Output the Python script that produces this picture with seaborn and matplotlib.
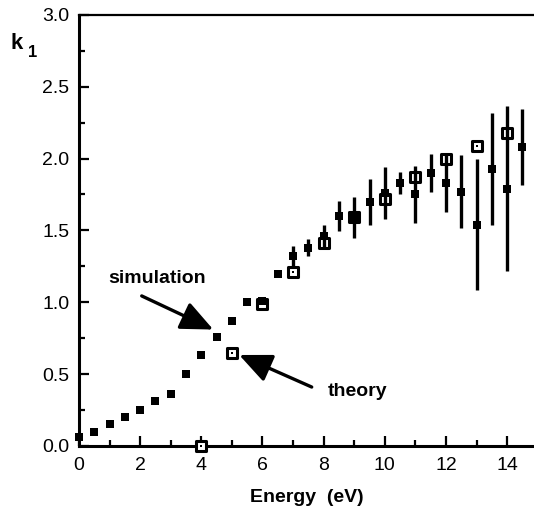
import numpy as np
import pandas as pd
import matplotlib
matplotlib.use("Agg")
import matplotlib.pyplot as plt
from matplotlib.ticker import MultipleLocator, FormatStrFormatter
import seaborn as sns

# simulation (filled squares, with error bars above 7 eV)
sim_energy = [0.0, 0.5, 1.0, 1.5, 2.0, 2.5, 3.0, 3.5, 4.0, 4.5,
              5.0, 5.5, 6.0, 6.5, 7.0, 7.5, 8.0, 8.5, 9.0, 9.5,
              10.0, 10.5, 11.0, 11.5, 12.0, 12.5, 13.0, 13.5, 14.0, 14.5]
sim_k1 = [0.06, 0.10, 0.15, 0.20, 0.25, 0.31, 0.36, 0.50, 0.63, 0.76,
          0.87, 1.00, 1.01, 1.20, 1.32, 1.38, 1.46, 1.60, 1.59, 1.70,
          1.76, 1.83, 1.75, 1.90, 1.83, 1.77, 1.54, 1.93, 1.79, 2.08]
sim_err = [0, 0, 0, 0, 0, 0, 0, 0, 0, 0,
           0, 0, 0, 0, 0.07, 0.06, 0.08, 0.105, 0.145, 0.16,
           0.18, 0.075, 0.20, 0.13, 0.20, 0.255, 0.455, 0.39, 0.575, 0.265]

# theory (open squares)
theory_energy = [4, 5, 6, 7, 8, 9, 10, 11, 12, 13, 14]
theory_k1 = [0.00, 0.645, 0.99, 1.21, 1.41, 1.59, 1.72, 1.87, 2.00, 2.09, 2.18]

sim = pd.DataFrame({"E": sim_energy, "k1": sim_k1, "err": sim_err})
theo = pd.DataFrame({"E": theory_energy, "k1": theory_k1})

sns.set_style("ticks")
plt.rcParams["font.family"] = ["Liberation Sans", "DejaVu Sans"]
plt.rcParams["text.color"] = "black"
plt.rcParams["axes.labelcolor"] = "black"

fig = plt.figure(figsize=(5.34, 5.12), dpi=100)
ax = fig.add_axes([0.148, 0.129, 0.852, 0.842])

# theory markers: open square with a small dot inside
sns.scatterplot(data=theo, x="E", y="k1", ax=ax, marker="s", s=55,
                facecolor="white", edgecolor="black", linewidth=2.2,
                zorder=3, clip_on=False, legend=False)
sns.scatterplot(data=theo, x="E", y="k1", ax=ax, marker="s", s=3,
                color="black", linewidth=0, zorder=3, clip_on=False, legend=False)

# simulation error bars + markers
bars = sim[sim["err"] > 0]
ax.errorbar(bars["E"], bars["k1"], yerr=bars["err"], fmt="none",
            ecolor="black", elinewidth=2.4, capsize=0, zorder=4)
sns.scatterplot(data=sim, x="E", y="k1", ax=ax, marker="s", s=30,
                color="black", linewidth=0, zorder=5, clip_on=False, legend=False)

ax.set_xlim(0, 14.88)
ax.set_ylim(0, 3.0)
ax.xaxis.set_major_locator(MultipleLocator(2))
ax.xaxis.set_minor_locator(MultipleLocator(1))
ax.yaxis.set_major_locator(MultipleLocator(0.5))
ax.yaxis.set_minor_locator(MultipleLocator(0.25))
ax.yaxis.set_major_formatter(FormatStrFormatter("%.1f"))

ax.tick_params(which="both", direction="in", width=1.6, colors="black",
               labelsize=14)
ax.tick_params(which="major", length=7, pad=7)
ax.tick_params(which="minor", length=4)
ax.tick_params(axis="x", which="major", pad=8)

for side in ["left", "bottom"]:
    ax.spines[side].set_linewidth(2.2)
    ax.spines[side].set_color("black")
ax.spines["top"].set_linewidth(1.6)
ax.spines["top"].set_color("black")
ax.spines["right"].set_visible(False)

ax.set_xlabel("Energy  (eV)", fontsize=14, fontweight="bold", labelpad=11)
ax.set_ylabel("")

fig.text(0.020, 0.905, "k", fontsize=16, fontweight="bold", ha="left", va="baseline")
fig.text(0.053, 0.888, "1", fontsize=12, fontweight="bold", ha="left", va="baseline")

# annotations
arrow = dict(arrowstyle="-|>,head_length=0.9,head_width=0.4", lw=2.4,
             color="black", mutation_scale=22, shrinkA=0, shrinkB=0)
ax.annotate("", xy=(4.39, 0.81), xytext=(2.05, 1.044), arrowprops=arrow)
ax.annotate("", xy=(5.24, 0.633), xytext=(7.61, 0.41), arrowprops=arrow)
ax.text(2.55, 1.134, "simulation", fontsize=14, fontweight="bold",
        ha="center", va="baseline")
ax.text(8.15, 0.35, "theory", fontsize=14, fontweight="bold",
        ha="left", va="baseline")

fig.savefig("out.png", dpi=100)
